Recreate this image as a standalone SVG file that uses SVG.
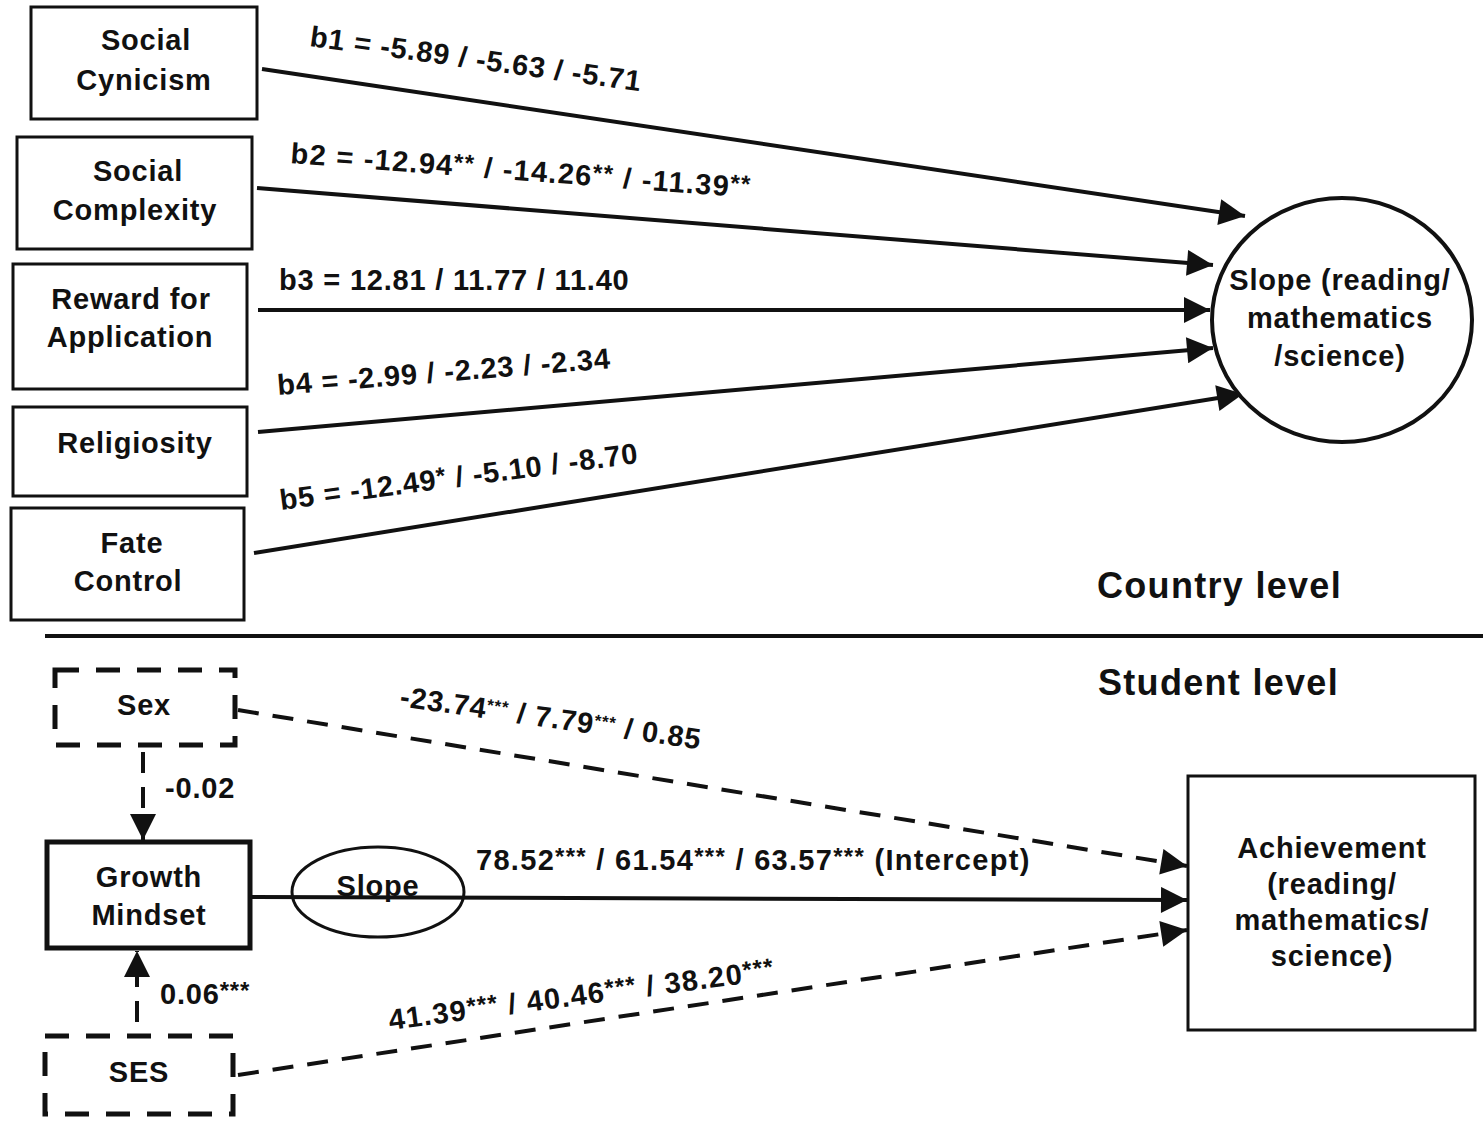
<svg xmlns="http://www.w3.org/2000/svg" width="1483" height="1122" viewBox="0 0 1483 1122">
  <style>
    .box { fill: #fff; stroke: #111; stroke-width: 3; }
    .dbox { fill: none; stroke: #111; stroke-width: 5; stroke-dasharray: 24 17; }
    .lbl { font-family: "Liberation Sans", Arial, sans-serif; font-weight: bold; font-size: 29px; letter-spacing: 0.8px; fill: #111; }
    .wide { letter-spacing: 1.3px; }
    .mid { text-anchor: middle; }
    .hdr { font-family: "Liberation Sans", Arial, sans-serif; font-weight: bold; font-size: 36px; letter-spacing: 1.3px; fill: #111; }
    .sup { font-size: 24px; }
    .tiny { font-size: 17px; }
    .edge { fill: none; stroke: #111; stroke-width: 4; }
    .dash { fill: none; stroke: #111; stroke-width: 4; stroke-dasharray: 21 14; }
  </style>
  <defs>
    <marker id="arrow" viewBox="0 0 10 10" refX="10" refY="5" markerWidth="7.5" markerHeight="6.5" markerUnits="strokeWidth" orient="auto">
      <path d="M0,0 L10,5 L0,10 Z" fill="#111"/>
    </marker>
  </defs>
  <rect width="1483" height="1122" fill="#fff"/>

  <!-- connectors -->
  <g id="connectors">
    <line class="edge" x1="262" y1="69" x2="1245" y2="216" marker-end="url(#arrow)"/>
    <line class="edge" x1="257" y1="188" x2="1213" y2="265" marker-end="url(#arrow)"/>
    <line class="edge" x1="258" y1="310" x2="1210" y2="310" marker-end="url(#arrow)"/>
    <line class="edge" x1="258" y1="432" x2="1213" y2="348" marker-end="url(#arrow)"/>
    <line class="edge" x1="254" y1="553" x2="1243" y2="394" marker-end="url(#arrow)"/>

    <line class="dash" x1="143" y1="752" x2="143" y2="840" marker-end="url(#arrow)"/>
    <line class="dash" x1="137" y1="1022" x2="137" y2="951" marker-end="url(#arrow)"/>
    <line class="dash" x1="238" y1="710" x2="1187" y2="866" marker-end="url(#arrow)"/>
    <line class="dash" x1="238" y1="1075" x2="1187" y2="930" marker-end="url(#arrow)"/>
    <line class="edge" stroke-width="3.5" x1="252" y1="897" x2="1187" y2="900" marker-end="url(#arrow)"/>

    <!-- path labels -->
    <text class="lbl" transform="rotate(7.8 309 46)" x="309" y="46">b1 = -5.89 / -5.63 / -5.71</text>
    <text class="lbl wide" transform="rotate(4.3 290 163)" x="290" y="163">b2 = -12.94<tspan class="sup" dy="-5">**</tspan><tspan dy="5"> / -14.26</tspan><tspan class="sup" dy="-5">**</tspan><tspan dy="5"> / -11.39</tspan><tspan class="sup" dy="-5">**</tspan></text>
    <text class="lbl" x="279" y="290">b3 = 12.81 / 11.77 / 11.40</text>
    <text class="lbl" transform="rotate(-4.6 278 395)" x="278" y="395">b4 = -2.99 / -2.23 / -2.34</text>
    <text class="lbl" transform="rotate(-7.5 281 510)" x="281" y="510">b5 = -12.49<tspan class="sup" dy="-5">*</tspan><tspan dy="5"> / -5.10 / -8.70</tspan></text>

    <text class="lbl" x="165" y="798">-0.02</text>
    <text class="lbl" x="160" y="1004">0.06<tspan class="sup" dy="-5">***</tspan></text>
    <text class="lbl" transform="rotate(8.2 399 706)" x="399" y="706">-23.74<tspan class="tiny" dy="-8">***</tspan><tspan dy="8"> / 7.79</tspan><tspan class="tiny" dy="-8">***</tspan><tspan dy="8"> / 0.85</tspan></text>
    <text class="lbl wide" x="476" y="870">78.52<tspan class="sup" dy="-5">***</tspan><tspan dy="5"> / 61.54</tspan><tspan class="sup" dy="-5">***</tspan><tspan dy="5"> / 63.57</tspan><tspan class="sup" dy="-5">***</tspan><tspan dy="5"> (Intercept)</tspan></text>
    <text class="lbl wide" transform="rotate(-7.5 390 1030)" x="390" y="1030">41.39<tspan class="sup" dy="-5">***</tspan><tspan dy="5"> / 40.46</tspan><tspan class="sup" dy="-5">***</tspan><tspan dy="5"> / 38.20</tspan><tspan class="sup" dy="-5">***</tspan></text>
  </g>

  <!-- country level predictors -->
  <g id="social-cynicism">
    <rect class="box" x="31" y="7" width="226" height="112"/>
    <text class="lbl mid" x="146" y="50">Social</text>
    <text class="lbl mid" x="144" y="90">Cynicism</text>
  </g>
  <g id="social-complexity">
    <rect class="box" x="17" y="137" width="235" height="112"/>
    <text class="lbl mid" x="138" y="181">Social</text>
    <text class="lbl mid" x="135" y="220">Complexity</text>
  </g>
  <g id="reward-for-application">
    <rect class="box" x="13" y="264" width="234" height="125"/>
    <text class="lbl mid" x="131" y="309">Reward for</text>
    <text class="lbl mid" x="130" y="347">Application</text>
  </g>
  <g id="religiosity">
    <rect class="box" x="13" y="407" width="234" height="89"/>
    <text class="lbl mid" x="135" y="453">Religiosity</text>
  </g>
  <g id="fate-control">
    <rect class="box" x="11" y="508" width="233" height="112"/>
    <text class="lbl mid" x="132" y="553">Fate</text>
    <text class="lbl mid" x="128" y="591">Control</text>
  </g>
  <g id="slope-outcome">
    <ellipse fill="#fff" stroke="#111" stroke-width="4" cx="1342" cy="320" rx="130" ry="122"/>
    <text class="lbl mid" x="1340" y="290">Slope (reading/</text>
    <text class="lbl mid" x="1340" y="328">mathematics</text>
    <text class="lbl mid" x="1340" y="366">/science)</text>
  </g>

  <!-- level divider -->
  <g id="levels">
    <line x1="45" y1="636" x2="1483" y2="636" stroke="#111" stroke-width="4"/>
    <text class="hdr" x="1097" y="598">Country level</text>
    <text class="hdr" x="1098" y="695">Student level</text>
  </g>

  <!-- student level -->
  <g id="sex">
    <rect class="dbox" x="55" y="670" width="180" height="75"/>
    <text class="lbl mid" x="144" y="715">Sex</text>
  </g>
  <g id="growth-mindset">
    <rect fill="#fff" stroke="#111" stroke-width="5" x="47" y="842" width="203" height="106"/>
    <text class="lbl mid" x="149" y="887">Growth</text>
    <text class="lbl mid" x="149" y="925">Mindset</text>
  </g>
  <g id="ses">
    <rect class="dbox" x="45" y="1036" width="188" height="78"/>
    <text class="lbl mid" x="139" y="1082">SES</text>
  </g>
  <g id="slope-moderator">
    <ellipse fill="none" stroke="#111" stroke-width="3" cx="378" cy="892" rx="86" ry="45"/>
    <text class="lbl mid" x="378" y="896">Slope</text>
  </g>
  <g id="achievement">
    <rect class="box" stroke-width="4" x="1188" y="776" width="287" height="254"/>
    <text class="lbl mid" x="1332" y="858">Achievement</text>
    <text class="lbl mid" x="1332" y="894">(reading/</text>
    <text class="lbl mid" x="1332" y="930">mathematics/</text>
    <text class="lbl mid" x="1332" y="966">science)</text>
  </g>
</svg>
